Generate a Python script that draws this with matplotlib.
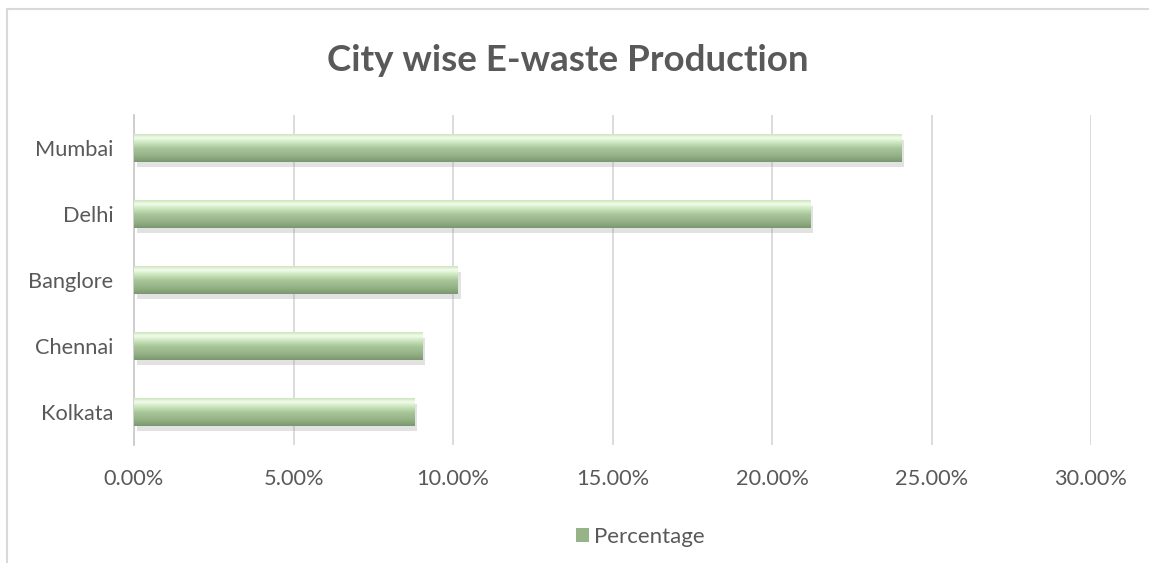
import matplotlib
matplotlib.use("Agg")
import matplotlib.pyplot as plt
import matplotlib.patheffects as pe
from matplotlib.patches import Rectangle, Patch
from matplotlib.ticker import FuncFormatter, MultipleLocator
from matplotlib.colors import LinearSegmentedColormap
import numpy as np

cities = ["Kolkata", "Chennai", "Banglore", "Delhi", "Mumbai"]
percentages = [8.8, 9.05, 10.15, 21.2, 24.05]
title = "City wise E-waste Production"
series_name = "Percentage"

plt.rcParams['font.family'] = ['Lato', 'DejaVu Sans']
text_color = "#595959"
W, H = 1149, 563

fig = plt.figure(figsize=(W / 100, H / 100), dpi=100)
fig.patches.append(Rectangle((7 / W, -0.1), 1.2, 1.1 - 9 / H,
                             transform=fig.transFigure, fill=False,
                             edgecolor="#d9d9d9", linewidth=1.5, zorder=0))
ax = fig.add_axes([134 / W, 1 - 445 / H, (1091 - 134) / W, (445 - 115) / H])

y = np.arange(len(cities))
bars = ax.barh(y, percentages, height=0.42, color="#a6c495", zorder=3,
               edgecolor="none")

cmap = LinearSegmentedColormap.from_list("bev", [
    (0.0, "#7b9770"), (0.18, "#90ae81"), (0.5, "#a9c79a"),
    (0.75, "#d6eec8"), (0.87, "#f3fcef"), (1.0, "#cbe6bb")])
g = np.linspace(0, 1, 64).reshape(-1, 1)
for b in bars:
    x0, y0 = b.get_x(), b.get_y()
    w, h = b.get_width(), b.get_height()
    b.set_path_effects([pe.SimplePatchShadow(offset=(2, -4), shadow_rgbFace="#a0a0a0", alpha=0.3),
                        pe.Normal()])
    im = ax.imshow(g, cmap=cmap, aspect="auto", origin="lower",
                   extent=[x0, x0 + w, y0, y0 + h], zorder=4, interpolation="bicubic")
    im.set_clip_path(b)

ax.set_xlim(0, 30)
ax.set_ylim(-0.5, len(cities) - 0.5)
ax.xaxis.set_major_locator(MultipleLocator(5))
ax.xaxis.set_major_formatter(FuncFormatter(lambda v, p: f"{v:.2f}%"))
ax.set_yticks(y)
ax.set_yticklabels(cities)
ax.grid(axis="x", color="#d9d9d9", linewidth=1.3, zorder=0)
ax.set_axisbelow(True)
for s in ["top", "right", "bottom"]:
    ax.spines[s].set_visible(False)
ax.spines["left"].set_color("#cccccc")
ax.spines["left"].set_linewidth(1.3)
ax.tick_params(axis="both", length=0, labelsize=15.7, colors=text_color)
ax.tick_params(axis="y", pad=15)
ax.tick_params(axis="x", pad=17)

fig.text(568 / W, 1 - 71 / H, title, ha="center", va="baseline",
         fontsize=26.5, fontweight="bold", color=text_color)

handle = Patch(facecolor="#96b487", edgecolor="none")
fig.legend([handle], [series_name], loc="center", bbox_to_anchor=(640 / W, 1 - 537 / H),
           frameon=False, fontsize=16, labelcolor=text_color,
           handlelength=0.6, handleheight=0.6, handletextpad=0.2)

fig.savefig("out.png", dpi=100, facecolor="white")
